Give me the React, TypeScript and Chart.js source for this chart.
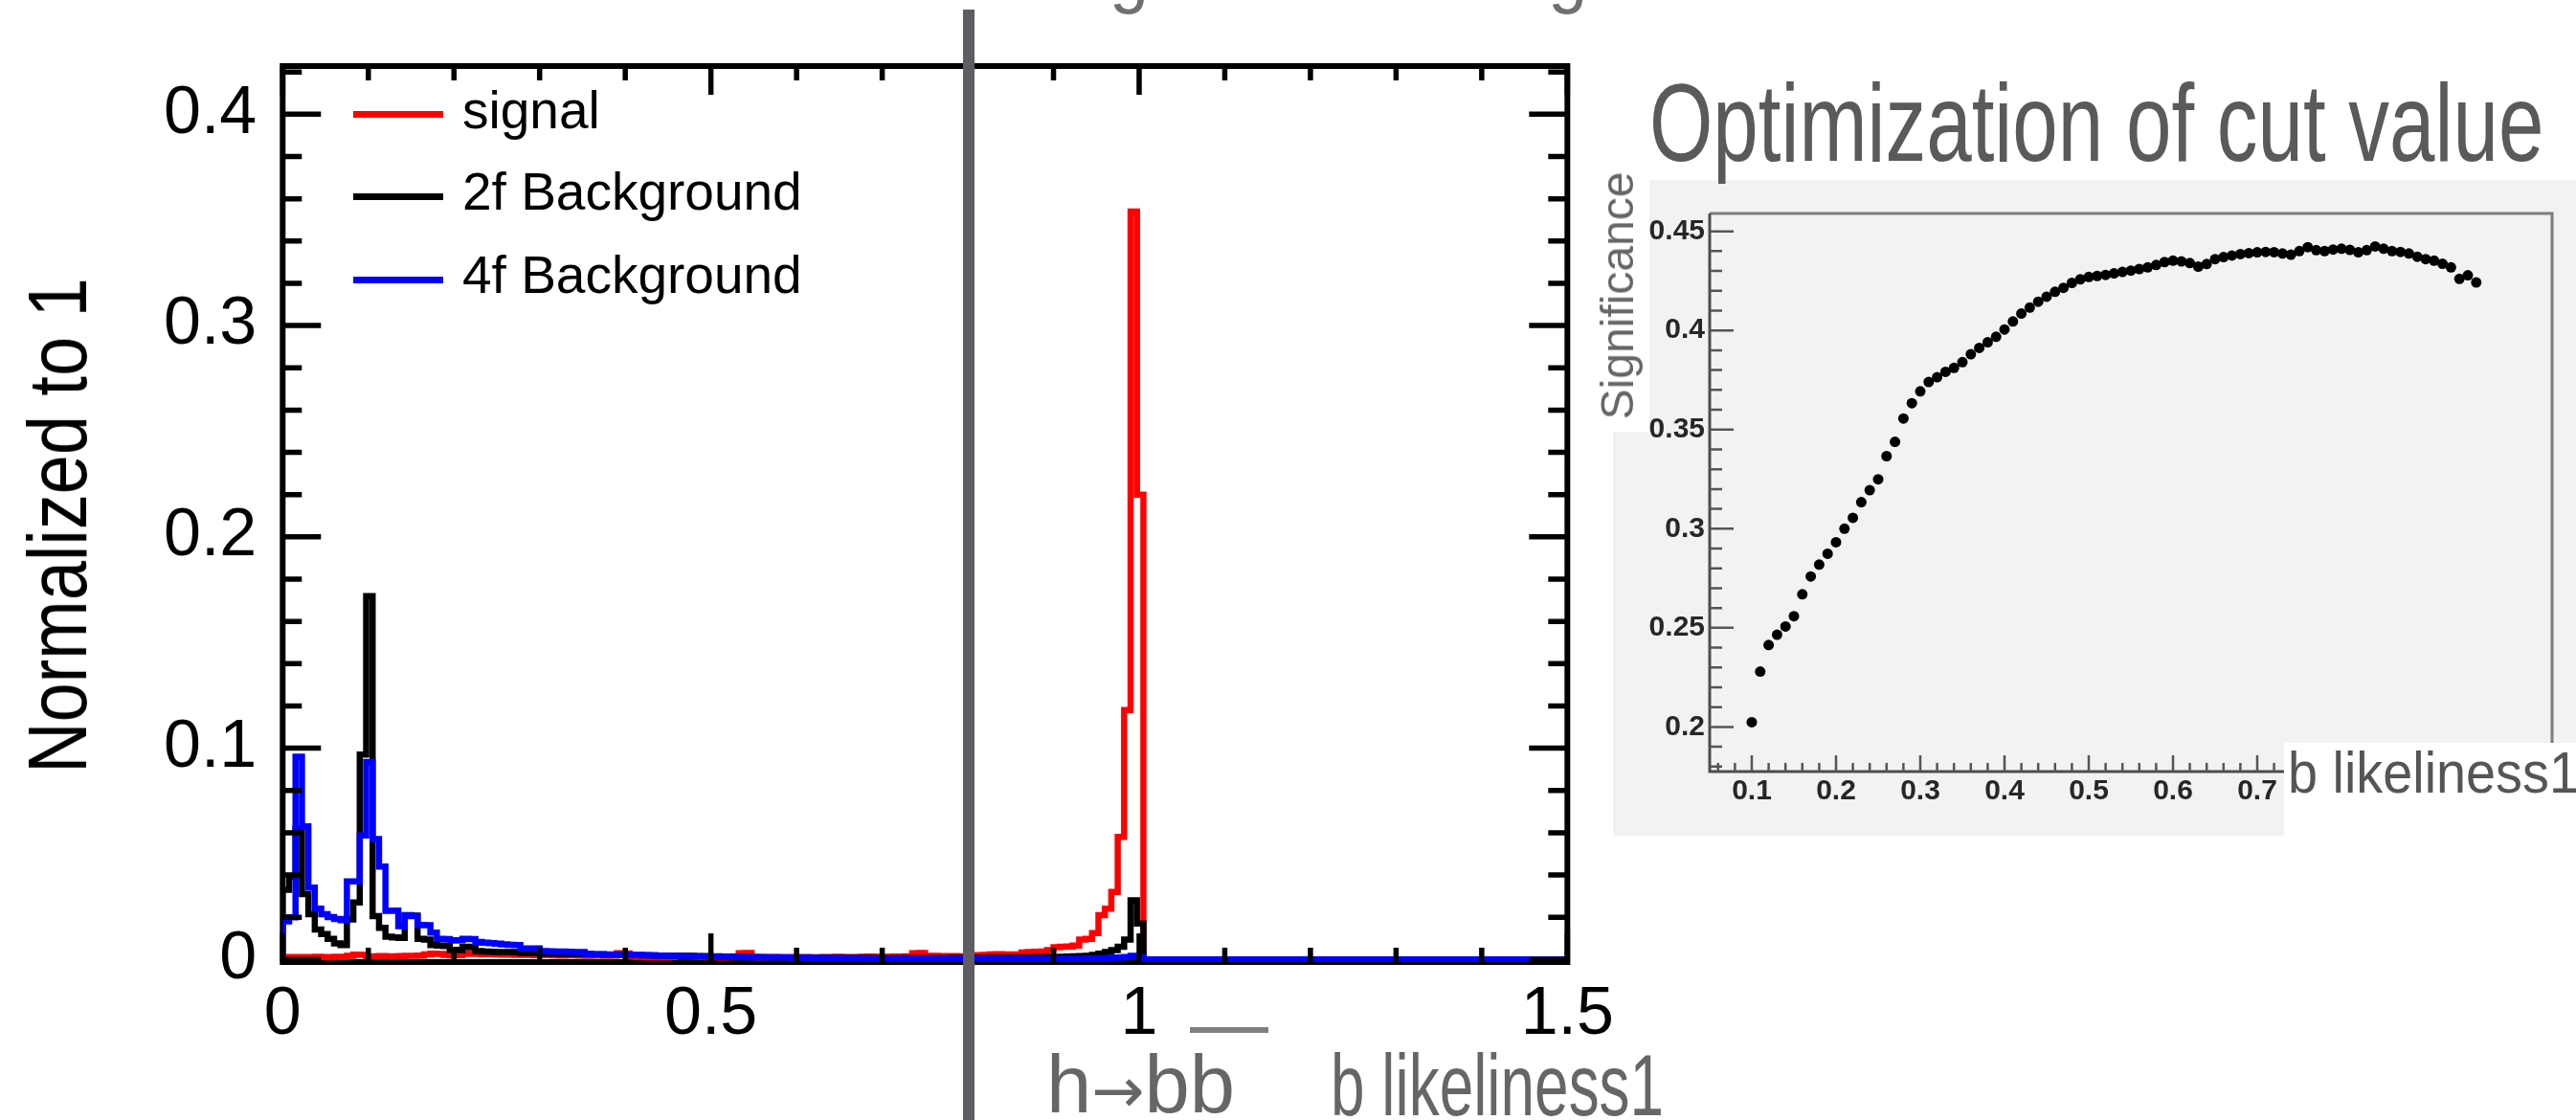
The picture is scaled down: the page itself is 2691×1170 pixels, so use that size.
import React, { useEffect, useRef } from "react";
import { Chart, registerables } from "chart.js";

Chart.register(...registerables);

const FONT = "'Liberation Sans', Arial, Helvetica, sans-serif";

// ---------------- main histogram (b likeliness) ----------------
const BIN_WIDTH = 0.0075; // 200 bins over [0, 1.5]
const X_MIN = 0;
const X_MAX = 1.5;

const signalValues = [
  0.0012, 0.0010, 0.0012, 0.0011, 0.0012, 0.0013, 0.0012, 0.0011, 0.0013, 0.0012,
  0.0018, 0.0023, 0.0022, 0.0015, 0.0014, 0.0016, 0.0015, 0.0014, 0.0016, 0.0017,
  0.0018, 0.0019, 0.0024, 0.0028, 0.0027, 0.0022, 0.0020, 0.0021, 0.0026, 0.0028,
  0.0027, 0.0025, 0.0026, 0.0024, 0.0023, 0.0024, 0.0022, 0.0023, 0.0022, 0.0021,
  0.0021, 0.0022, 0.0020, 0.0019, 0.0021, 0.0020, 0.0019, 0.0018, 0.0020, 0.0019,
  0.0018, 0.0019, 0.0030, 0.0029, 0.0016, 0.0012, 0.0011, 0.0010, 0.0011, 0.0010,
  0.0012, 0.0015, 0.0016, 0.0015, 0.0014, 0.0012, 0.0011, 0.0012, 0.0010, 0.0011,
  0.0012, 0.0030, 0.0031, 0.0012, 0.0010, 0.0011, 0.0012, 0.0011, 0.0010, 0.0012,
  0.0011, 0.0012, 0.0010, 0.0011, 0.0012, 0.0011, 0.0013, 0.0012, 0.0011, 0.0012,
  0.0013, 0.0014, 0.0013, 0.0012, 0.0013, 0.0014, 0.0013, 0.0015, 0.0030, 0.0031,
  0.0016, 0.0017, 0.0016, 0.0015, 0.0016, 0.0015, 0.0014, 0.0020, 0.0021, 0.0022,
  0.0024, 0.0025, 0.0023, 0.0024, 0.0018, 0.0033, 0.0035, 0.0037, 0.0038, 0.0045,
  0.0058, 0.0060, 0.0062, 0.0066, 0.0095, 0.0098, 0.0125, 0.0210, 0.0240, 0.0320,
  0.0580, 0.1180, 0.3540, 0.2200, 0, 0, 0, 0, 0, 0,
  0, 0, 0, 0, 0, 0, 0, 0, 0, 0,
  0, 0, 0, 0, 0, 0, 0, 0, 0, 0,
  0, 0, 0, 0, 0, 0, 0, 0, 0, 0,
  0, 0, 0, 0, 0, 0, 0, 0, 0, 0,
  0, 0, 0, 0, 0, 0, 0, 0, 0, 0,
  0, 0, 0, 0, 0, 0, 0, 0, 0, 0,
];

const bkg2fValues = [
  0.0330, 0.0390, 0.0620, 0.0310, 0.0215, 0.0142, 0.0120, 0.0098, 0.0076, 0.0068,
  0.0190, 0.0270, 0.0970, 0.1720, 0.0205, 0.0150, 0.0108, 0.0105, 0.0102, 0.0210,
  0.0208, 0.0098, 0.0095, 0.0068, 0.0066, 0.0064, 0.0046, 0.0045, 0.0060, 0.0058,
  0.0040, 0.0038, 0.0037, 0.0036, 0.0036, 0.0035, 0.0034, 0.0031, 0.0030, 0.0030,
  0.0029, 0.0028, 0.0028, 0.0027, 0.0026, 0.0026, 0.0025, 0.0025, 0.0024, 0.0024,
  0.0023, 0.0023, 0.0022, 0.0022, 0.0021, 0.0021, 0.0020, 0.0020, 0.0019, 0.0019,
  0.0018, 0.0018, 0.0017, 0.0017, 0.0016, 0.0016, 0.0015, 0.0015, 0.0014, 0.0014,
  0.0013, 0.0013, 0.0012, 0.0012, 0.0012, 0.0011, 0.0011, 0.0011, 0.0010, 0.0010,
  0.0010, 0.0010, 0.0009, 0.0009, 0.0009, 0.0009, 0.0008, 0.0008, 0.0008, 0.0008,
  0.0008, 0.0007, 0.0007, 0.0007, 0.0007, 0.0007, 0.0007, 0.0007, 0.0007, 0.0007,
  0.0007, 0.0007, 0.0007, 0.0007, 0.0008, 0.0008, 0.0008, 0.0008, 0.0008, 0.0008,
  0.0009, 0.0009, 0.0009, 0.0009, 0.0010, 0.0010, 0.0010, 0.0011, 0.0011, 0.0012,
  0.0012, 0.0013, 0.0014, 0.0015, 0.0016, 0.0018, 0.0022, 0.0028, 0.0035, 0.0045,
  0.0060, 0.0095, 0.0280, 0.0170, 0, 0, 0, 0, 0, 0,
  0, 0, 0, 0, 0, 0, 0, 0, 0, 0,
  0, 0, 0, 0, 0, 0, 0, 0, 0, 0,
  0, 0, 0, 0, 0, 0, 0, 0, 0, 0,
  0, 0, 0, 0, 0, 0, 0, 0, 0, 0,
  0, 0, 0, 0, 0, 0, 0, 0, 0, 0,
  0, 0, 0, 0, 0, 0, 0, 0, 0, 0,
];

const bkg4fValues = [
  0.0180, 0.0200, 0.0960, 0.0630, 0.0340, 0.0240, 0.0215, 0.0201, 0.0192, 0.0186,
  0.0370, 0.0370, 0.0587, 0.0935, 0.0570, 0.0440, 0.0230, 0.0232, 0.0158, 0.0209,
  0.0206, 0.0164, 0.0162, 0.0127, 0.0098, 0.0097, 0.0090, 0.0091, 0.0098, 0.0097,
  0.0083, 0.0080, 0.0078, 0.0075, 0.0072, 0.0070, 0.0068, 0.0053, 0.0053, 0.0052,
  0.0040, 0.0039, 0.0038, 0.0038, 0.0037, 0.0036, 0.0036, 0.0026, 0.0025, 0.0025,
  0.0024, 0.0024, 0.0023, 0.0023, 0.0022, 0.0022, 0.0021, 0.0020, 0.0019, 0.0018,
  0.0017, 0.0016, 0.0016, 0.0015, 0.0015, 0.0014, 0.0014, 0.0013, 0.0013, 0.0012,
  0.0012, 0.0011, 0.0011, 0.0010, 0.0010, 0.0010, 0.0009, 0.0009, 0.0009, 0.0008,
  0.0008, 0.0008, 0.0008, 0.0007, 0.0007, 0.0007, 0.0007, 0.0006, 0.0006, 0.0006,
  0.0006, 0.0006, 0.0005, 0.0005, 0.0005, 0.0005, 0.0005, 0.0005, 0.0005, 0.0005,
  0.0005, 0.0005, 0.0005, 0.0005, 0.0005, 0.0005, 0.0005, 0.0005, 0.0005, 0.0005,
  0.0005, 0.0005, 0.0004, 0.0004, 0.0004, 0.0004, 0.0004, 0.0004, 0.0004, 0.0004,
  0.0004, 0.0004, 0.0004, 0.0004, 0.0005, 0.0005, 0.0005, 0.0006, 0.0007, 0.0008,
  0.0009, 0.0012, 0.0018, 0.0012, 0, 0, 0, 0, 0, 0,
  0, 0, 0, 0, 0, 0, 0, 0, 0, 0,
  0, 0, 0, 0, 0, 0, 0, 0, 0, 0,
  0, 0, 0, 0, 0, 0, 0, 0, 0, 0,
  0, 0, 0, 0, 0, 0, 0, 0, 0, 0,
  0, 0, 0, 0, 0, 0, 0, 0, 0, 0,
  0, 0, 0, 0, 0, 0, 0, 0, 0, 0,
];

const legendLabels = ["signal", "2f Background", "4f Background"];
const legendColors = ["#ff0000", "#000000", "#0000ff"];

const xTickValues = [0, 0.5, 1, 1.5];
const xTickLabels = ["0", "0.5", "1", "1.5"];
const xMinorTickValues = [0.1, 0.2, 0.3, 0.4, 0.6, 0.7, 0.8, 0.9, 1.1, 1.2, 1.3, 1.4];
const yTickValues = [0, 0.1, 0.2, 0.3, 0.4];
const yTickLabels = ["0", "0.1", "0.2", "0.3", "0.4"];
const yMinorTickValues = [
  0.02, 0.04, 0.06, 0.08, 0.12, 0.14, 0.16, 0.18, 0.22, 0.24, 0.26, 0.28,
  0.32, 0.34, 0.36, 0.38, 0.42,
];

// ---------------- inset: optimization of cut value ----------------
const cutValues = [
  0.10, 0.11, 0.12, 0.13, 0.14, 0.15, 0.16, 0.17, 0.18, 0.19,
  0.20, 0.21, 0.22, 0.23, 0.24, 0.25, 0.26, 0.27, 0.28, 0.29,
  0.30, 0.31, 0.32, 0.33, 0.34, 0.35, 0.36, 0.37, 0.38, 0.39,
  0.40, 0.41, 0.42, 0.43, 0.44, 0.45, 0.46, 0.47, 0.48, 0.49,
  0.50, 0.51, 0.52, 0.53, 0.54, 0.55, 0.56, 0.57, 0.58, 0.59,
  0.60, 0.61, 0.62, 0.63, 0.64, 0.65, 0.66, 0.67, 0.68, 0.69,
  0.70, 0.71, 0.72, 0.73, 0.74, 0.75, 0.76, 0.77, 0.78, 0.79,
  0.80, 0.81, 0.82, 0.83, 0.84, 0.85, 0.86, 0.87, 0.88, 0.89,
  0.90, 0.91, 0.92, 0.93, 0.94, 0.95, 0.96,
];
const significanceValues = [
  0.2024, 0.2279, 0.2413, 0.2465, 0.2507, 0.2559, 0.2669, 0.2759, 0.2819, 0.2874,
  0.2932, 0.3000, 0.3055, 0.3134, 0.3194, 0.3249, 0.3366, 0.3438, 0.3556, 0.3633,
  0.3693, 0.3740, 0.3764, 0.3791, 0.3811, 0.3840, 0.3880, 0.3912, 0.3940, 0.3968,
  0.4005, 0.4045, 0.4085, 0.4115, 0.4145, 0.4170, 0.4195, 0.4215, 0.4240, 0.4258,
  0.4270, 0.4275, 0.4280, 0.4288, 0.4295, 0.4302, 0.4310, 0.4318, 0.4330, 0.4345,
  0.4352, 0.4348, 0.4340, 0.4322, 0.4335, 0.4360, 0.4370, 0.4378, 0.4385, 0.4390,
  0.4394, 0.4396, 0.4395, 0.4388, 0.4382, 0.4400, 0.4420, 0.4405, 0.4400, 0.4408,
  0.4412, 0.4406, 0.4394, 0.4405, 0.4424, 0.4412, 0.4400, 0.4396, 0.4388, 0.4372,
  0.4360, 0.4352, 0.4336, 0.4318, 0.4260, 0.4278, 0.4242,
];
const insetXTickValues = [0.1, 0.2, 0.3, 0.4, 0.5, 0.6, 0.7];
const insetXTickLabels = ["0.1", "0.2", "0.3", "0.4", "0.5", "0.6", "0.7"];
const insetYTickValues = [0.2, 0.25, 0.3, 0.35, 0.4, 0.45];
const insetYTickLabels = ["0.2", "0.25", "0.3", "0.35", "0.4", "0.45"];

// ---------------- helpers ----------------
function histPoints(values: number[]) {
  const pts: { x: number; y: number }[] = [{ x: X_MIN, y: 0 }];
  values.forEach((v, i) => pts.push({ x: X_MIN + i * BIN_WIDTH, y: v }));
  pts.push({ x: X_MAX, y: 0 });
  return pts;
}

const mainFramePlugin = {
  id: "mainFrame",
  beforeDatasetsDraw(chart: any) {
    const { ctx, chartArea: a } = chart;
    ctx.save();
    ctx.strokeStyle = "#000";
    ctx.lineWidth = 6;
    ctx.strokeRect(a.left, a.top, a.right - a.left, a.bottom - a.top);
    ctx.restore();
  },
  afterDatasetsDraw(chart: any) {
    const { ctx, chartArea: a, scales } = chart;
    const xs = scales.x;
    const ys = scales.y;
    ctx.save();
    ctx.strokeStyle = "#000";
    ctx.lineWidth = 5.5;
    ctx.lineCap = "butt";
    ctx.beginPath();
    const xTick = (v: number, len: number) => {
      const px = xs.getPixelForValue(v);
      ctx.moveTo(px, a.bottom);
      ctx.lineTo(px, a.bottom - len);
      ctx.moveTo(px, a.top);
      ctx.lineTo(px, a.top + len);
    };
    const yTick = (v: number, len: number) => {
      const py = ys.getPixelForValue(v);
      ctx.moveTo(a.left, py);
      ctx.lineTo(a.left + len, py);
      ctx.moveTo(a.right, py);
      ctx.lineTo(a.right - len, py);
    };
    xMinorTickValues.forEach((v) => xTick(v, 15));
    xTickValues.forEach((v) => xTick(v, 30));
    yMinorTickValues.forEach((v) => yTick(v, 20));
    yTickValues.forEach((v) => yTick(v, 40));
    ctx.stroke();
    ctx.restore();
  },
};

const insetFramePlugin = {
  id: "insetFrame",
  beforeDatasetsDraw(chart: any) {
    const { ctx, chartArea: a, scales } = chart;
    const xs = scales.x;
    const ys = scales.y;
    ctx.save();
    ctx.strokeStyle = "#7c7c7c";
    ctx.lineWidth = 3;
    ctx.beginPath();
    ctx.moveTo(a.left, a.top);
    ctx.lineTo(a.right, a.top);
    ctx.lineTo(a.right, a.bottom);
    ctx.stroke();
    ctx.strokeStyle = "#4d4d4d";
    ctx.beginPath();
    ctx.moveTo(a.left, a.top);
    ctx.lineTo(a.left, a.bottom);
    ctx.lineTo(a.right, a.bottom);
    ctx.stroke();
    ctx.lineWidth = 2.5;
    ctx.strokeStyle = "#555";
    ctx.beginPath();
    for (let k = 18; k <= 45; k++) {
      const py = ys.getPixelForValue(k / 100);
      const len = k % 5 === 0 ? 25 : 13;
      ctx.moveTo(a.left, py);
      ctx.lineTo(a.left + len, py);
    }
    for (let k = 6; k <= 104; k += 2) {
      const px = xs.getPixelForValue(k / 100);
      const len = k % 10 === 0 ? 17 : 9;
      ctx.moveTo(px, a.bottom);
      ctx.lineTo(px, a.bottom - len);
    }
    ctx.stroke();
    ctx.restore();
  },
};

function Txt(props: {
  text: React.ReactNode;
  left: number;
  baseline: number;
  size: number;
  color: string;
  scaleX?: number;
  weight?: number;
}) {
  const { text, left, baseline, size, color, scaleX = 1, weight = 400 } = props;
  return (
    <div
      style={{
        position: "absolute",
        left,
        top: baseline - 0.8465 * size,
        fontFamily: FONT,
        fontSize: size,
        lineHeight: `${size}px`,
        fontWeight: weight,
        color,
        whiteSpace: "nowrap",
        transform: `scaleX(${scaleX})`,
        transformOrigin: "left top",
      }}
    >
      {text}
    </div>
  );
}

function VTxt(props: { text: string; cx: number; cy: number; size: number; color: string; scaleX?: number }) {
  const { text, cx, cy, size, color, scaleX = 1 } = props;
  return (
    <div
      style={{
        position: "absolute",
        left: cx,
        top: cy,
        fontFamily: FONT,
        fontSize: size,
        lineHeight: `${size}px`,
        color,
        whiteSpace: "nowrap",
        transform: `translate(-50%, -50%) rotate(-90deg) scaleX(${scaleX})`,
      }}
    >
      {text}
    </div>
  );
}

export default function App() {
  const mainRef = useRef<HTMLCanvasElement>(null);
  const insetRef = useRef<HTMLCanvasElement>(null);

  useEffect(() => {
    const tickFont = { family: FONT, size: 70 };
    const main = new Chart(mainRef.current as HTMLCanvasElement, {
      type: "line",
      data: {
        datasets: [
          {
            label: legendLabels[2],
            data: histPoints(bkg4fValues),
            borderColor: legendColors[2],
            borderWidth: 6.5,
            pointRadius: 0,
            stepped: "before",
            fill: false,
            order: 0,
          },
          {
            label: legendLabels[1],
            data: histPoints(bkg2fValues),
            borderColor: legendColors[1],
            borderWidth: 6.5,
            pointRadius: 0,
            stepped: "before",
            fill: false,
            order: 1,
          },
          {
            label: legendLabels[0],
            data: histPoints(signalValues),
            borderColor: legendColors[0],
            borderWidth: 6.5,
            pointRadius: 0,
            stepped: "before",
            fill: false,
            order: 2,
          },
        ],
      },
      options: {
        animation: false,
        responsive: false,
        maintainAspectRatio: false,
        events: [],
        layout: { padding: { top: 50.7, right: 57, left: 0, bottom: 0 } },
        plugins: { legend: { display: false }, tooltip: { enabled: false } },
        scales: {
          x: {
            type: "linear",
            min: X_MIN,
            max: X_MAX,
            grid: { display: false, drawTicks: false },
            border: { display: false },
            ticks: {
              font: tickFont,
              color: "#000",
              padding: 14,
              maxRotation: 0,
              autoSkip: false,
              callback: (_v: any, i: number) => xTickLabels[i],
            },
            afterBuildTicks: (s: any) => {
              s.ticks = xTickValues.map((v) => ({ value: v }));
            },
            afterFit: (s: any) => {
              s.height = 165;
            },
          },
          y: {
            type: "linear",
            min: -0.0012,
            max: 0.4228,
            grid: { display: false, drawTicks: false },
            border: { display: false },
            ticks: {
              font: tickFont,
              color: "#000",
              padding: 27,
              autoSkip: false,
              callback: (_v: any, i: number) => yTickLabels[i],
            },
            afterBuildTicks: (s: any) => {
              s.ticks = yTickValues.map((v) => ({ value: v }));
            },
            afterFit: (s: any) => {
              s.width = 295.3;
            },
          },
        },
      },
      plugins: [mainFramePlugin],
    } as any);

    const insetFont = { family: FONT, size: 30, weight: "bold" };
    const inset = new Chart(insetRef.current as HTMLCanvasElement, {
      type: "scatter",
      data: {
        datasets: [
          {
            label: "Significance",
            data: cutValues.map((x, i) => ({ x, y: significanceValues[i] })),
            pointRadius: 5.5,
            pointBackgroundColor: "#000",
            pointBorderWidth: 0,
            showLine: false,
          },
        ],
      },
      options: {
        animation: false,
        responsive: false,
        maintainAspectRatio: false,
        events: [],
        layout: { padding: { top: 17, right: 24, left: 0, bottom: 0 } },
        plugins: { legend: { display: false }, tooltip: { enabled: false } },
        scales: {
          x: {
            type: "linear",
            min: 0.05,
            max: 1.05,
            grid: { display: false, drawTicks: false },
            border: { display: false },
            ticks: {
              font: insetFont,
              color: "#262626",
              padding: 3,
              maxRotation: 0,
              autoSkip: false,
              callback: (_v: any, i: number) => insetXTickLabels[i],
            },
            afterBuildTicks: (s: any) => {
              s.ticks = insetXTickValues.map((v) => ({ value: v }));
            },
            afterFit: (s: any) => {
              s.height = 74;
            },
          },
          y: {
            type: "linear",
            min: 0.1775,
            max: 0.459,
            grid: { display: false, drawTicks: false },
            border: { display: false },
            ticks: {
              font: insetFont,
              color: "#262626",
              padding: 5,
              autoSkip: false,
              callback: (_v: any, i: number) => insetYTickLabels[i],
            },
            afterBuildTicks: (s: any) => {
              s.ticks = insetYTickValues.map((v) => ({ value: v }));
            },
            afterFit: (s: any) => {
              s.width = 96;
            },
          },
        },
      },
      plugins: [insetFramePlugin],
    } as any);

    return () => {
      main.destroy();
      inset.destroy();
    };
  }, []);

  const legendRows = [119, 205, 292];
  const legendBaselines = [135, 220, 307];

  return (
    <div
      style={{
        position: "absolute",
        left: 0,
        top: 0,
        width: 2691,
        height: 1170,
        background: "#ffffff",
        overflow: "hidden",
        fontFamily: FONT,
      }}
    >
      {/* inset grey panel */}
      <div style={{ position: "absolute", left: 1723, top: 188, width: 968, height: 685, background: "#f2f2f2" }} />
      <div style={{ position: "absolute", left: 1685, top: 451, width: 38, height: 422, background: "#f2f2f2" }} />

      <canvas
        ref={mainRef}
        width={1700}
        height={1170}
        style={{ position: "absolute", left: 0, top: 0, width: 1700, height: 1170 }}
      />
      <canvas
        ref={insetRef}
        width={1000}
        height={680}
        style={{ position: "absolute", left: 1690, top: 200, width: 1000, height: 680 }}
      />

      {/* white label box of the inset x axis */}
      <div style={{ position: "absolute", left: 2386, top: 776, width: 305, height: 110, background: "#ffffff" }} />
      <Txt text="b likeliness1" left={2390} baseline={828} size={62} color="#555" scaleX={0.9} />

      {/* legend */}
      {legendLabels.map((lab, i) => (
        <React.Fragment key={lab}>
          <div
            style={{
              position: "absolute",
              left: 369,
              top: legendRows[i] - 3.5,
              width: 94,
              height: 7,
              background: legendColors[i],
            }}
          />
          <Txt text={lab} left={483} baseline={legendBaselines[i]} size={55} color="#000" />
        </React.Fragment>
      ))}

      <VTxt text="Normalized to 1" cx={60} cy={549} size={88} color="#000" scaleX={0.84} />

      {/* slide texts */}
      <Txt
        text="The b likeliness distribution of signal and background events"
        left={120}
        baseline={-1}
        size={80}
        color="#707070"
        scaleX={0.92}
      />
      <Txt text="Optimization of cut value" left={1723} baseline={168} size={115} color="#5a5a5a" scaleX={0.742} />
      <VTxt text="Significance" cx={1690} cy={309} size={48} color="#666" />
      <Txt
        text={
          <>
            h
            <span style={{ fontFamily: "'DejaVu Sans', sans-serif", fontSize: 66 }}>→</span>
            bb
          </>
        }
        left={1093}
        baseline={1162}
        size={85}
        color="#666"
      />
      <div style={{ position: "absolute", left: 1243, top: 1073, width: 82, height: 6, background: "#808080" }} />
      <Txt text="b likeliness1" left={1390} baseline={1165} size={90} color="#666" scaleX={0.71} />

      {/* cut line */}
      <div style={{ position: "absolute", left: 1006, top: 10, width: 12, height: 1160, background: "#5f5c66" }} />
    </div>
  );
}
